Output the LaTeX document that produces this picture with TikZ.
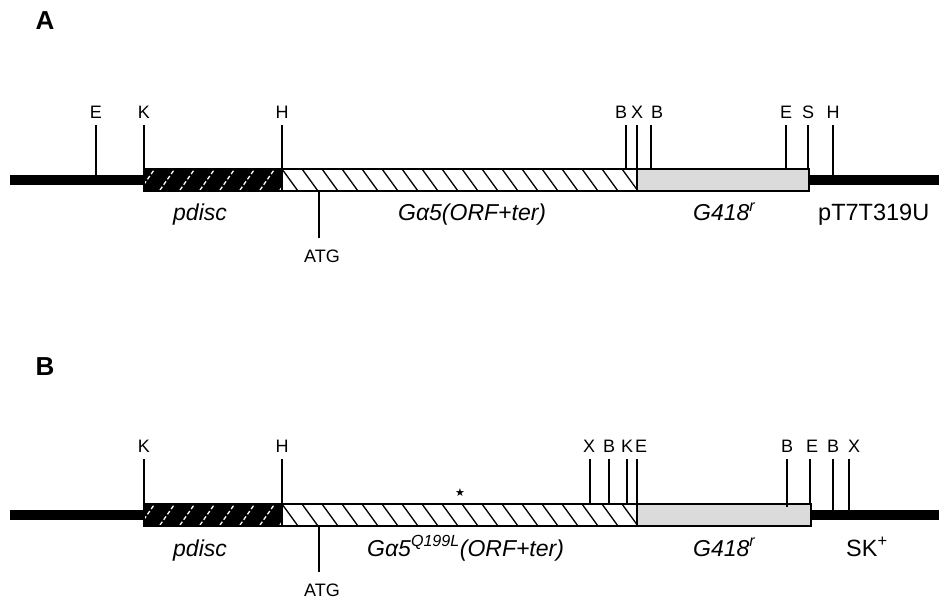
\documentclass[tikz,border=0pt]{standalone}
\usepackage{fontspec}
\setmainfont{Liberation Sans}
\newfontfamily\symfont{DejaVu Sans}
\usetikzlibrary{positioning}

\begin{document}
\begin{tikzpicture}[
  x=1pt,y=-1pt,
  vector/.style={line width=10pt},
  frame/.style={draw=black,line width=1.5pt},
  darkhatch/.style={white,line width=1.3pt,dash pattern=on 4pt off 2.5pt},
  orfhatch/.style={black,line width=1.3pt},
  marker/.style={fill=black!14},
  tick/.style={line width=1.3pt,shorten <=6pt},
  site/.style={font=\fontsize{18}{18}\selectfont,inner sep=0pt,anchor=south},
  gene/.style={font=\fontsize{23}{23}\selectfont\itshape,inner sep=0pt,anchor=base west},
  plasmid/.style={font=\fontsize{23.5}{23.5}\selectfont,inner sep=0pt,anchor=base west},
  panel/.style={font=\fontsize{26}{26}\selectfont\bfseries,inner sep=0pt}
]
\useasboundingbox (0,0) rectangle (939,601);

% ---- panel A: pdisc-Galpha5 in pT7T319U
\node[panel] (labA) at (45,21) {A};
\draw[vector] (10,180) -- (144,180);
\draw[vector] (809,180) -- (939,180);
\fill[black] (144,169) rectangle (282,191);
\begin{scope}
  \clip (144,169) rectangle (282,191);
  \foreach \x in {140,160,...,280} \draw[darkhatch] (\x,190) -- (\x+14,170);
\end{scope}
\begin{scope}
  \clip (282,169) rectangle (637,191);
  \foreach \x in {282,302,...,642} \draw[orfhatch] (\x,169) -- (\x+16,191);
\end{scope}
\fill[marker] (637,169) rectangle (809,191);
\draw[frame] (144,169) rectangle (809,191);
\draw[frame] (282,169) -- (282,191);
\draw[frame] (637,169) -- (637,191);

\foreach \lx/\x/\lab/\y [count=\i] in {96/96/E/175, 144/144/K/169, 282/282/H/169,
    621/626/B/169, 637/637/X/169, 657/651/B/169, 786/786/E/169, 808/808/S/169,
    833/833/H/175}{
  \node[site] (sA\i) at (\lx,119) {\lab};
  \coordinate (eA\i) at (\x,\y);
  \draw[tick] (sA\i.south -| eA\i) -- (eA\i);
}
\coordinate (startA) at (319,191);
\node[site] (atgA) at (322,263) {ATG};
\draw[tick,shorten <=0pt,shorten >=12pt] (startA) -- (atgA.north -| startA);

\node[gene] (pdA) at (173,221) {pdisc};
\node[gene] (orfA) at (398,221) {Gα5(ORF+ter)};
\node[gene] (neoA) at (693,221) {G418\textsuperscript{r}};
\node[plasmid] (vecA) at (818,221) {pT7T319U};

% ---- panel B: pdisc-Galpha5(Q199L) in SK+
\node[panel] (labB) at (45,367) {B};
\draw[vector] (10,515) -- (144,515);
\draw[vector] (811,515) -- (939,515);
\fill[black] (144,504) rectangle (282,526);
\begin{scope}
  \clip (144,504) rectangle (282,526);
  \foreach \x in {140,160,...,280} \draw[darkhatch] (\x,525) -- (\x+14,505);
\end{scope}
\begin{scope}
  \clip (282,504) rectangle (637,526);
  \foreach \x in {282,302,...,642} \draw[orfhatch] (\x,504) -- (\x+16,526);
\end{scope}
\fill[marker] (637,504) rectangle (811,526);
\draw[frame] (144,504) rectangle (811,526);
\draw[frame] (282,504) -- (282,526);
\draw[frame] (637,504) -- (637,526);

\foreach \lx/\x/\lab/\y [count=\i] in {144/144/K/504, 282/282/H/504,
    589/590/X/504, 609/609/B/504, 627/627/K/504, 641/637/E/504,
    787/787/B/507, 812/810/E/504, 833/833/B/510, 854/849/X/510}{
  \node[site] (sB\i) at (\lx,453) {\lab};
  \coordinate (eB\i) at (\x,\y);
  \draw[tick] (sB\i.south -| eB\i) -- (eB\i);
}
\node[font=\symfont\fontsize{11}{11}\selectfont,inner sep=0pt] (mut) at (460,493) {★};
\coordinate (startB) at (319,526);
\node[site] (atgB) at (322,597) {ATG};
\draw[tick,shorten <=0pt,shorten >=12pt] (startB) -- (atgB.north -| startB);

\node[gene] (pdB) at (173,556) {pdisc};
\node[gene] (orfB) at (367,556) {Gα5\textsuperscript{Q199L}(ORF+ter)};
\node[gene] (neoB) at (693,556) {G418\textsuperscript{r}};
\node[plasmid] (vecB) at (846,556) {SK\textsuperscript{+}};
\end{tikzpicture}
\end{document}
